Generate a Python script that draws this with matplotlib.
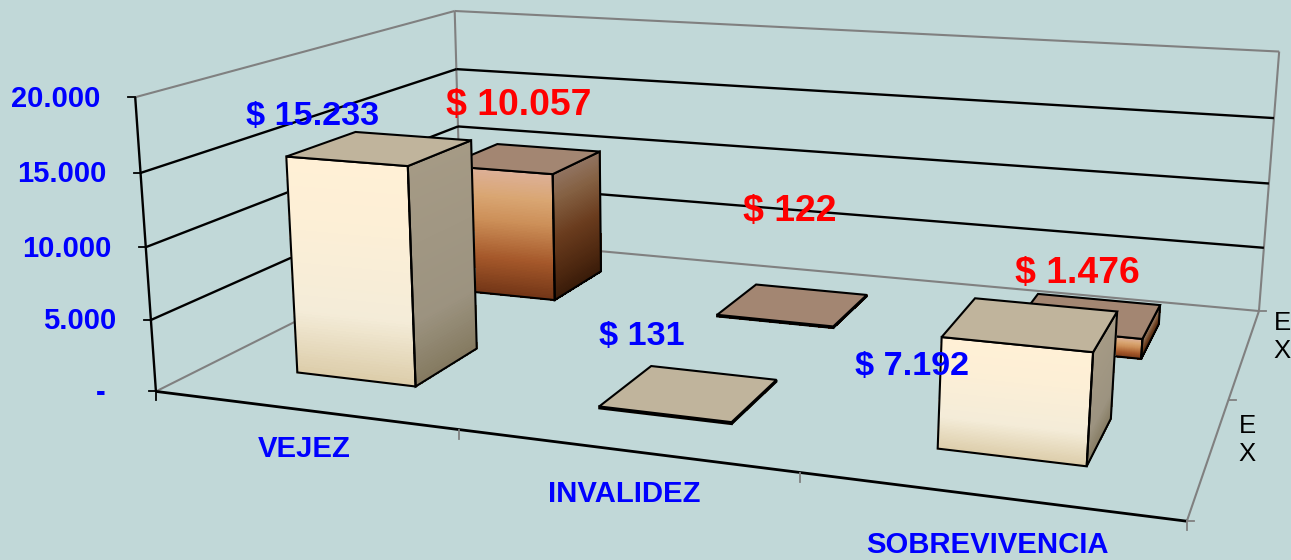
import matplotlib
matplotlib.use("Agg")
import matplotlib.pyplot as plt
from matplotlib.colors import LinearSegmentedColormap
from matplotlib.patches import Polygon
import numpy as np

categories = ["VEJEZ", "INVALIDEZ", "SOBREVIVENCIA"]
series_names = ["E\nX", "E\nX"]
front_values = [15233, 131, 7192]
back_values = [10057, 122, 1476]
front_labels = ["$ 15.233", "$ 131", "$ 7.192"]
back_labels = ["$ 10.057", "$ 122", "$ 1.476"]
tick_values = [0, 5000, 10000, 15000, 20000]
tick_labels = ["-", "5.000", "10.000", "15.000", "20.000"]

# camera fitted on the corners of the chart box (x, depth, height) -> pixels
box = [(0, 0, 0, 156, 390), (1, 0, 0, 1187, 522), (1, 1, 0, 1259, 310), (0, 1, 0, 461, 240),
       (0, 0, 1, 135, 98), (0, 1, 1, 455, 10), (1, 1, 1, 1279, 52)]
A = []
b = []
for X, Y, Z, u, v in box:
    A.append([X, Y, Z, 1, 0, 0, 0, 0, -u * X, -u * Y, -u * Z])
    A.append([0, 0, 0, 0, X, Y, Z, 1, -v * X, -v * Y, -v * Z])
    b += [u, v]
P = np.append(np.linalg.lstsq(np.array(A, float), np.array(b, float), rcond=None)[0], 1).reshape(3, 4)
ymax = 20000


def proj(x, y, val):
    h = P @ np.array([x, y, val / ymax, 1.0])
    return h[0] / h[2], h[1] / h[2]


cream = LinearSegmentedColormap.from_list("cream", [(0, "#FFF0D6"), (0.25, "#FDEFD6"), (0.7, "#F4ECD8"), (1, "#DCCCA9")])
cream_side = LinearSegmentedColormap.from_list("cream_side", [(0, "#A59A85"), (0.7, "#9C9380"), (1, "#84795F")])
brown = LinearSegmentedColormap.from_list("brown", [(0, "#DDB097"), (0.2, "#D9A673"), (0.4, "#CC8F58"), (0.7, "#A5582A"), (1, "#703416")])
brown_side = LinearSegmentedColormap.from_list("brown_side", [(0, "#917360"), (0.2, "#846042"), (0.5, "#6A3C1E"), (0.8, "#4E2810"), (1, "#371A08")])
top_cream = "#C0B49C"
top_brown = "#A38672"

fig = plt.figure(figsize=(12.91, 5.6), dpi=100, facecolor="#C1D8D8")
ax = fig.add_axes([0, 0, 1, 1])
ax.set_xlim(0, 1291)
ax.set_ylim(560, 0)
ax.axis("off")


def line3(a, c, color="black", lw=1.6, zorder=2):
    pa = proj(*a)
    pc = proj(*c)
    ax.plot([pa[0], pc[0]], [pa[1], pc[1]], color=color, lw=lw, zorder=zorder, solid_capstyle="butt")


grey = "#808080"
# walls and floor
line3((0, 0, ymax), (0, 1, ymax), grey, 1.5)
line3((0, 1, ymax), (1, 1, ymax), grey, 1.5)
line3((0, 1, 0), (0, 1, ymax), grey, 1.5)
line3((1, 1, 0), (1, 1, ymax), grey, 1.5)
line3((0, 0, 0), (0, 1, 0), grey, 1.5)
line3((0, 1, 0), (1, 1, 0), grey, 1.5)
line3((1, 0, 0), (1, 1, 0), grey, 1.5)
for t in tick_values[1:-1]:
    line3((0, 0, t), (0, 1, t), "black", 1.7)
    line3((0, 1, t), (1, 1, t), "black", 1.7)
line3((0, 0, 0), (0, 0, ymax), "black", 1.7, 3)
line3((0, 0, 0), (1, 0, 0), "black", 2.0, 3)

# ticks
for t, lab in zip(tick_values, tick_labels):
    px, py = proj(0, 0, t)
    ax.plot([px - 7, px], [py, py], color="black", lw=1.3, zorder=3)
    ax.text(px - (50 if t == 0 else 34.5), py + 1.5, lab, ha="right", va="center", color="#0000FF",
            fontsize=21, fontweight="bold", family="Liberation Sans")
for i in range(len(categories) + 1):
    px, py = proj(i / len(categories), 0, 0)
    ax.plot([px, px], [py, py + 9], color="black" if i == 0 else grey, lw=1.3, zorder=3)
for i, pos in enumerate([(304, 449), (624, 494), (987, 545)]):
    ax.text(pos[0], pos[1], categories[i], ha="center", va="center", color="#0000FF",
            fontsize=21.1, fontweight="bold", family="Liberation Sans")
for i in range(len(series_names) + 1):
    px, py = proj(1, i / len(series_names), 0)
    ax.plot([px, px + 7], [py, py], color=grey, lw=1.3, zorder=3)
for pos, name in zip([(1247, 440), (1282, 337)], series_names):
    ax.text(pos[0], pos[1], name, ha="center", va="center", color="black", fontsize=18.5,
            family="Liberation Sans", linespacing=1.25)


def face(corners, cmap, val_lo, val_hi, zorder):
    # corners is left/right (x, y) of a vertical face, drawn as thin strips for the fill
    (x0, y0), (x1, y1) = corners
    n = 80
    levels = np.linspace(val_lo, val_hi, n + 1)
    for k in range(n):
        quad = [proj(x0, y0, levels[k]), proj(x1, y1, levels[k]), proj(x1, y1, levels[k + 1]), proj(x0, y0, levels[k + 1])]
        c = cmap(1 - (k + 0.5) / n)
        ax.add_patch(Polygon(quad, closed=True, fc=c, ec=c, lw=0.6, antialiased=False, zorder=zorder))
    outline = [proj(x0, y0, val_lo), proj(x1, y1, val_lo), proj(x1, y1, val_hi), proj(x0, y0, val_hi)]
    ax.add_patch(Polygon(outline, closed=True, fc="none", ec="black", lw=1.5, zorder=zorder + 0.1))


def bar(i, yc, val, cmap, side_cmap, top, zorder):
    xc = (i + 0.5) / len(categories)
    x0, x1 = xc - bar_w / 2, xc + bar_w / 2
    y0, y1 = yc - bar_d / 2, yc + bar_d / 2
    face([(x0, y0), (x1, y0)], cmap, 0, val, zorder)
    face([(x1, y0), (x1, y1)], side_cmap, 0, val, zorder)
    ax.add_patch(Polygon([proj(x0, y0, val), proj(x1, y0, val), proj(x1, y1, val), proj(x0, y1, val)],
                         closed=True, fc=top, ec="black", lw=1.5, zorder=zorder + 0.2))


bar_w = 0.135
bar_d = 0.205
for i in range(len(categories)):
    bar(i, 0.761, back_values[i], brown, brown_side, top_brown, 4 + i)
for i in range(len(categories)):
    bar(i, 0.254, front_values[i], cream, cream_side, top_cream, 8 + i)

for lab, pos in zip(front_labels, [(313, 117), (642, 337), (912, 367)]):
    ax.text(pos[0], pos[1], lab, ha="center", va="center", color="#0000FF", fontsize=24.6, fontweight="bold",
            family="Liberation Sans", zorder=20)
for lab, pos in zip(back_labels, [(519, 106), (790, 212), (1077, 274)]):
    ax.text(pos[0], pos[1], lab, ha="center", va="center", color="#FF0000", fontsize=26.9, fontweight="bold",
            family="Liberation Sans", zorder=20)

plt.savefig("out.png", dpi=100, facecolor=fig.get_facecolor())
